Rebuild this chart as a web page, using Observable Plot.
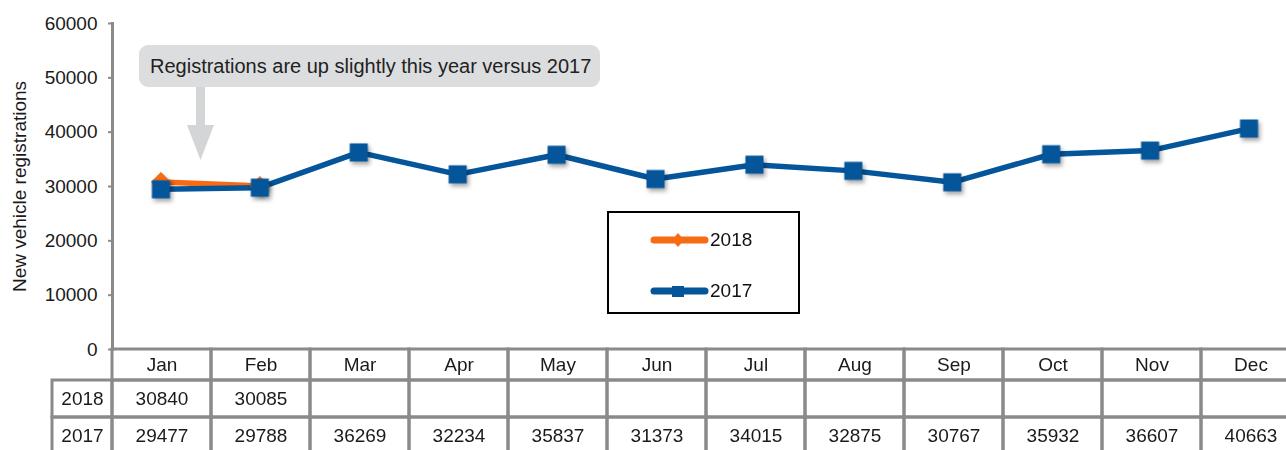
<!DOCTYPE html>
<html>
<head>
<meta charset="utf-8">
<script src="https://cdn.jsdelivr.net/npm/d3@7"></script>
<script src="https://cdn.jsdelivr.net/npm/@observablehq/plot@0.6"></script>
<style>
  html, body { margin: 0; padding: 0; background: #fff; }
  #wrap { position: relative; width: 1286px; height: 450px; overflow: hidden; font-family: "Liberation Sans", Arial, sans-serif; }
  #wrap > svg.plot-layer { position: absolute; left: 0; top: 0; }
  #note { position: absolute; left: 139px; top: 45px; width: 461px; height: 42px; background: #dcdddf; border-radius: 9px;
          font-size: 20px; line-height: 42px; color: #222; box-sizing: border-box; padding-left: 11px; white-space: nowrap; }
  #wrap > #arrow { position: absolute; left: 185px; top: 87px; }
  #legend { position: absolute; left: 607px; top: 211px; width: 193px; height: 103px; box-sizing: border-box; border: 2px solid #000; background: #fff; }
  .li { position: absolute; left: 41px; height: 24px; display: flex; align-items: center; font-size: 19px; color: #111; }
  .li svg { display: block; }
</style>
</head>
<body>
<div id="wrap"></div>
<script>
// ---- data ----
const months = ["Jan","Feb","Mar","Apr","May","Jun","Jul","Aug","Sep","Oct","Nov","Dec"];
const values2018 = [30840, 30085];
const values2017 = [29477, 29788, 36269, 32234, 35837, 31373, 34015, 32875, 30767, 35932, 36607, 40663];
const seriesNames = ["2018", "2017"];
const seriesColors = ["#f76b12", "#05559a"];
const seriesSymbols = ["diamond2", "square"];
const yTicks = [0, 10000, 20000, 30000, 40000, 50000, 60000];
const yLabel = "New vehicle registrations";
const noteText = "Registrations are up slightly this year versus 2017";

const seriesValues = [values2018, values2017];
const rows = seriesNames.map((name, k) => seriesValues[k].map((v, i) => ({series: name, month: months[i], value: v})));

const gray = "#8a8a8a";
const W = 1286, H = 450;
const wrap = document.getElementById("wrap");

// ---- chart ----
const chart = Plot.plot({
  width: W, height: H,
  marginLeft: 112, marginRight: 0, marginTop: 23, marginBottom: 101,
  style: {fontFamily: "Liberation Sans, Arial, sans-serif", fontSize: "19px", background: "transparent", color: "#1a1a1a", overflow: "visible"},
  x: {type: "point", domain: months, range: [111, 1298], padding: 0.5, align: 0.5, round: false, axis: null},
  y: {domain: [0, 60000], range: [349, 23]},
  marks: [
    Plot.axisY({ticks: yTicks, tickFormat: d => String(d), tickSize: 4, tickPadding: 11, stroke: gray, strokeWidth: 2, fontSize: 19,
      label: yLabel, labelAnchor: "center", labelArrow: "none", labelOffset: 100}),
    Plot.frame({anchor: "left", stroke: gray, strokeWidth: 3}),
    ...rows.map((data, k) => Plot.line(data, {x: "month", y: "value", stroke: seriesColors[k], strokeWidth: 5.5, strokeLinejoin: "round"})),
    ...rows.map((data, k) => Plot.dot(data, {x: "month", y: "value", symbol: seriesSymbols[k], r: k === 1 ? 10.2 : 9, fill: seriesColors[k],
      imageFilter: "drop-shadow(2px 3px 2px rgba(0,0,0,0.35))"}))
  ]
});
chart.classList.add("plot-layer");
wrap.appendChild(chart);

// ---- data table ----
const cells = [];
const texts = [];
months.forEach((m, i) => { cells.push({c0: i, c1: i + 1, r0: 0, r1: 1}); texts.push({c: i + 0.5, r: 0.5, t: m}); });
seriesNames.forEach((name, k) => {
  const r = k + 1;
  cells.push({c0: -1, c1: 0, r0: r, r1: r + 1});
  texts.push({c: -0.5, r: r + 0.5, t: name});
  months.forEach((m, i) => {
    cells.push({c0: i, c1: i + 1, r0: r, r1: r + 1});
    const v = seriesValues[k][i];
    if (v != null) texts.push({c: i + 0.5, r: r + 0.5, t: String(v)});
  });
});
const table = Plot.plot({
  width: W, height: H, margin: 0,
  style: {fontFamily: "Liberation Sans, Arial, sans-serif", fontSize: "19px", background: "transparent", color: "#1a1a1a", overflow: "visible"},
  x: {type: "linear", domain: [-1, 0, 12], range: [52, 112, 1300], axis: null},
  y: {type: "linear", domain: [0, 1, 2, 3], range: [349, 380, 417, 454], axis: null},
  marks: [
    Plot.rect(cells, {x1: "c0", x2: "c1", y1: "r0", y2: "r1", fill: "none", stroke: gray, strokeWidth: 3}),
    Plot.text(texts, {x: "c", y: "r", text: "t", fontSize: 19, fill: "#1a1a1a"})
  ]
});
table.classList.add("plot-layer");
wrap.appendChild(table);

// ---- annotation ----
const note = document.createElement("div");
note.id = "note";
note.textContent = noteText;
wrap.appendChild(note);
const arrow = document.createElementNS("http://www.w3.org/2000/svg", "svg");
arrow.id = "arrow";
arrow.setAttribute("width", 32); arrow.setAttribute("height", 76);
arrow.innerHTML = '<polygon points="11,0 20,0 20,38 29,38 15.5,73 2,38 11,38" fill="#d4d5d7"/>';
wrap.appendChild(arrow);

// ---- legend ----
const legend = document.createElement("div");
legend.id = "legend";
seriesNames.forEach((name, k) => {
  const item = document.createElement("div");
  item.className = "li";
  item.style.top = (k === 0 ? 15 : 66) + "px";
  const sw = document.createElementNS("http://www.w3.org/2000/svg", "svg");
  sw.setAttribute("width", 60); sw.setAttribute("height", 24);
  const marker = seriesSymbols[k] === "square"
    ? `<rect x="22" y="7" width="12" height="11" fill="${seriesColors[k]}"/>`
    : `<polygon points="28,5 34,12 28,19 22,12" fill="${seriesColors[k]}"/>`;
  sw.innerHTML = `<line x1="4" y1="12" x2="55" y2="12" stroke="${seriesColors[k]}" stroke-width="7" stroke-linecap="round"/>` + marker;
  item.appendChild(sw);
  const lab = document.createElement("span");
  lab.textContent = name;
  item.appendChild(lab);
  legend.appendChild(item);
});
wrap.appendChild(legend);
</script>
</body>
</html>
